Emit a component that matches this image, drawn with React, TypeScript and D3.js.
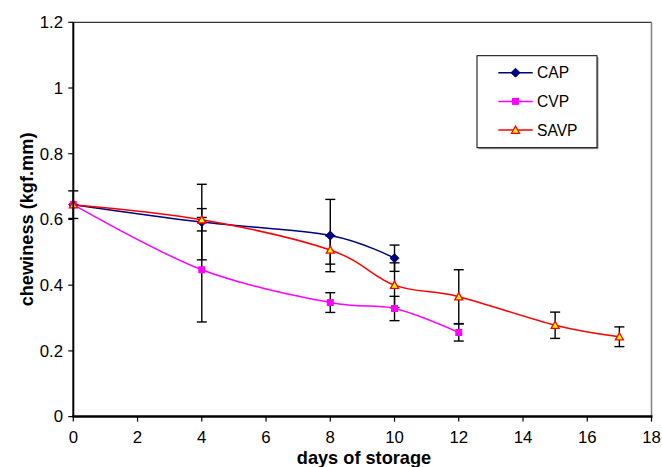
import React from "react";
import * as d3 from "d3";

const capDays = [0, 4, 8, 10];
const capValues = [0.645, 0.592, 0.551, 0.482];
const capErrors = [0.042, 0.115, 0.11, 0.04];

const cvpDays = [0, 4, 8, 10, 12];
const cvpValues = [0.645, 0.447, 0.347, 0.329, 0.256];
const cvpErrors = [0, 0.159, 0.03, 0.037, 0.026];

const savpDays = [0, 4, 8, 10, 12, 15, 17];
const savpValues = [0.645, 0.599, 0.507, 0.4, 0.365, 0.278, 0.243];
const savpErrors = [0, 0.034, 0.043, 0.068, 0.082, 0.04, 0.03];

const xTicks = [0, 2, 4, 6, 8, 10, 12, 14, 16, 18];
const yTicks = [0, 0.2, 0.4, 0.6, 0.8, 1, 1.2];
const seriesNames = ["CAP", "CVP", "SAVP"];

const W = 662;
const H = 467;
const left = 73.3;
const right = 651.5;
const top = 22.3;
const bottom = 416.6;
const FONT = "'Liberation Sans', Arial, Helvetica, sans-serif";

const x = d3.scaleLinear().domain([0, 18]).range([left, right]);
const y = d3.scaleLinear().domain([0, 1.2]).range([bottom, top]);

type Pt = { d: number; v: number; e: number };
const zip = (ds: number[], vs: number[], es: number[]): Pt[] =>
  ds.map((d, i) => ({ d, v: vs[i], e: es[i] }));

const series = [
  { name: seriesNames[0], pts: zip(capDays, capValues, capErrors), color: "#000080", marker: "diamond" },
  { name: seriesNames[1], pts: zip(cvpDays, cvpValues, cvpErrors), color: "#ff00ff", marker: "square" },
  { name: seriesNames[2], pts: zip(savpDays, savpValues, savpErrors), color: "#ff0000", marker: "triangle" },
];

const line = d3
  .line<Pt>()
  .x((p) => x(p.d))
  .y((p) => y(p.v))
  .curve(d3.curveCardinal.tension(0));

function Marker({ kind, cx, cy, color }: { kind: string; cx: number; cy: number; color: string }) {
  if (kind === "diamond") {
    const s = 4.5;
    return (
      <path
        d={`M${cx},${cy - s}L${cx + s},${cy}L${cx},${cy + s}L${cx - s},${cy}Z`}
        fill={color}
        stroke={color}
        strokeWidth={1}
      />
    );
  }
  if (kind === "square") {
    const s = 3.5;
    return <rect x={cx - s} y={cy - s} width={2 * s} height={2 * s} fill={color} />;
  }
  const s = 4;
  return (
    <path
      d={`M${cx},${cy - s}L${cx + s},${cy + s * 0.8}L${cx - s},${cy + s * 0.8}Z`}
      fill="#ffff00"
      stroke={color}
      strokeWidth={1.3}
    />
  );
}

export default function App() {
  const legendX = 477;
  const legendY = 55.7;
  const legendW = 120;
  const legendH = 92;
  return (
    <svg
      width={W}
      height={H}
      style={{ position: "absolute", left: 0, top: 0, background: "#fff" }}
      fontFamily={FONT}
    >
      <rect x={0} y={0} width={W} height={H} fill="#fff" />
      {/* plot frame top/right */}
      <line x1={left} x2={right} y1={top} y2={top} stroke="#000" strokeWidth={1} />
      <line x1={right} x2={right} y1={top} y2={bottom} stroke="#808080" strokeWidth={1.5} />

      {/* y ticks & labels */}
      {yTicks.map((t) => (
        <g key={"y" + t}>
          <line x1={left - 5} x2={left} y1={y(t)} y2={y(t)} stroke="#000" strokeWidth={1.2} />
          <text x={63} y={y(t)} dy="0.35em" textAnchor="end" fontSize={16.8} fill="#000">
            {d3.format("")(t)}
          </text>
        </g>
      ))}
      {/* x ticks & labels */}
      {xTicks.map((t) => (
        <g key={"x" + t}>
          <line x1={x(t)} x2={x(t)} y1={bottom} y2={bottom + 5} stroke="#000" strokeWidth={1.2} />
          <text x={x(t)} y={443} textAnchor="middle" fontSize={16.8} fill="#000">
            {t}
          </text>
        </g>
      ))}

      {/* error bars */}
      {series.map((s) =>
        s.pts
          .filter((p) => p.e > 0)
          .map((p, i) => (
            <g key={s.name + "e" + i} stroke="#000" strokeWidth={1.4}>
              <line x1={x(p.d)} x2={x(p.d)} y1={y(p.v + p.e)} y2={y(p.v - p.e)} />
              <line x1={x(p.d) - 5} x2={x(p.d) + 5} y1={y(p.v + p.e)} y2={y(p.v + p.e)} />
              <line x1={x(p.d) - 5} x2={x(p.d) + 5} y1={y(p.v - p.e)} y2={y(p.v - p.e)} />
            </g>
          ))
      )}

      {/* lines */}
      {series.map((s) => (
        <path key={s.name + "l"} d={line(s.pts) || ""} fill="none" stroke={s.color} strokeWidth={1.5} />
      ))}
      {/* markers */}
      {series.map((s) =>
        s.pts.map((p, i) => (
          <Marker key={s.name + "m" + i} kind={s.marker} cx={x(p.d)} cy={y(p.v)} color={s.color} />
        ))
      )}

      {/* axes */}
      <line x1={left} x2={left} y1={top} y2={bottom} stroke="#000" strokeWidth={2} />
      <line x1={left - 1} x2={right + 1} y1={bottom} y2={bottom} stroke="#000" strokeWidth={2.5} />

      {/* axis titles */}
      <text x={364} y={464} textAnchor="middle" fontSize={18.2} fontWeight="bold" fill="#000">
        days of storage
      </text>
      <text
        transform={`translate(33,${(top + bottom) / 2}) rotate(-90)`}
        textAnchor="middle"
        fontSize={18.2}
        fontWeight="bold"
        fill="#000"
      >
        chewiness (kgf.mm)
      </text>

      {/* legend */}
      <rect x={legendX + 1.5} y={legendY + 1.5} width={legendW} height={legendH} fill="#999" />
      <rect x={legendX} y={legendY} width={legendW} height={legendH} fill="#fff" stroke="#000" strokeWidth={1} />
      {series.map((s, i) => {
        const ly = 72.7 + i * 28.7;
        return (
          <g key={s.name + "leg"}>
            <line x1={498.3} x2={532.7} y1={ly} y2={ly} stroke={s.color} strokeWidth={1.5} />
            <Marker kind={s.marker} cx={515.5} cy={ly} color={s.color} />
            <text x={537} y={ly} dy="0.36em" fontSize={15.6} fill="#000">
              {s.name}
            </text>
          </g>
        );
      })}
    </svg>
  );
}
